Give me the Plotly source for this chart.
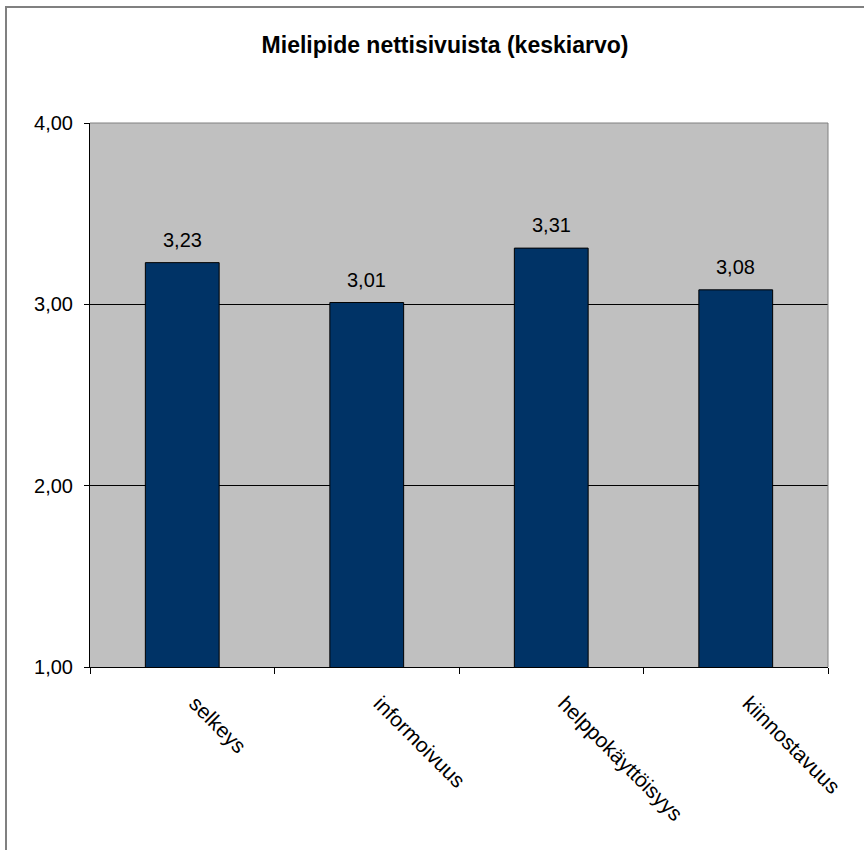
import plotly.graph_objects as go

# Average opinion scores per website attribute
categories = ["selkeys", "informoivuus", "helppokäyttöisyys", "kiinnostavuus"]
averages = [3.23, 3.01, 3.31, 3.08]
y_ticks = [1, 2, 3, 4]
y_tick_labels = ["1,00", "2,00", "3,00", "4,00"]

FONT = "Liberation Sans, Arial, sans-serif"

fig = go.Figure(
    go.Bar(
        x=categories,
        y=averages,
        marker=dict(color="#003366", line=dict(color="#000000", width=1)),
        width=0.4,
    )
)

# value labels above each bar
for cat, val in zip(categories, averages):
    fig.add_annotation(
        x=cat, y=val, xref="x", yref="y",
        text=f"{val:.2f}".replace(".", ","),
        showarrow=False, yanchor="bottom", yshift=10,
        font=dict(family=FONT, size=20, color="#000000"),
    )

fig.update_layout(
    width=864,
    height=850,
    margin=dict(l=90, r=36, t=123, b=183),
    paper_bgcolor="#FFFFFF",
    plot_bgcolor="#C0C0C0",
    showlegend=False,
    title=dict(
        text="<b>Mielipide nettisivuista (keskiarvo)</b>",
        font=dict(family=FONT, size=23, color="#000000"),
        x=445 / 864,
        xanchor="center",
        xref="container",
        y=1 - 45 / 850,
        yanchor="middle",
        yref="container",
    ),
    xaxis=dict(
        type="category",
        tickangle=45,
        tickson="boundaries",
        ticks="outside",
        ticklen=6,
        tickcolor="#000000",
        showline=True,
        linecolor="#000000",
        linewidth=1,
        showgrid=False,
        ticklabelstandoff=15,
        ticklabelshift=13,
        tickfont=dict(family=FONT, size=21, color="#000000"),
    ),
    yaxis=dict(
        range=[1, 4],
        tickvals=y_ticks,
        ticktext=y_tick_labels,
        ticks="outside",
        ticklen=5,
        tickcolor="#000000",
        showline=True,
        linecolor="#000000",
        linewidth=1,
        showgrid=True,
        gridcolor="#000000",
        gridwidth=1,
        zeroline=False,
        ticklabelstandoff=7,
        tickfont=dict(family=FONT, size=20, color="#000000"),
    ),
    shapes=[
        # grey frame on top and right of the plotting area
        dict(type="line", xref="paper", yref="paper", x0=0, x1=1, y0=1, y1=1,
             line=dict(color="#808080", width=1)),
        dict(type="line", xref="paper", yref="paper", x0=1, x1=1, y0=0, y1=1,
             line=dict(color="#808080", width=1)),
        # outer chart frame
        dict(type="rect", xref="paper", yref="paper",
             x0=(6 - 90) / 738, x1=(880 - 90) / 738,
             y0=(667 - 870) / 544, y1=(667 - 7) / 544,
             line=dict(color="#808080", width=2)),
    ],
)

fig.write_html("out.html")
